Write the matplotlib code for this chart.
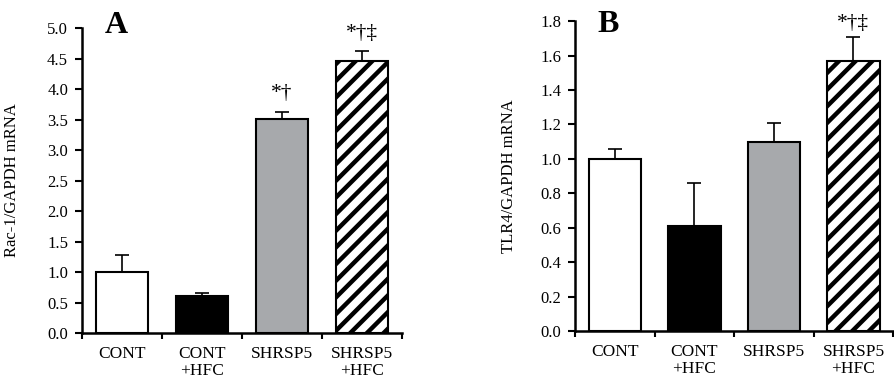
import numpy as np
import matplotlib.pyplot as plt

plt.rcParams['font.family'] = ['Liberation Serif', 'DejaVu Serif']
plt.rcParams['hatch.linewidth'] = 3.2

groups = ['CONT', 'CONT\n+HFC', 'SHRSP5', 'SHRSP5\n+HFC']
colors = ['white', 'black', '#a7a9ac', 'white']
hatches = ['', '', '', '//']

rac1_mean = [1.00, 0.61, 3.51, 4.46]
rac1_err = [0.28, 0.05, 0.12, 0.16]
rac1_marks = ['', '', '*†', '*†‡']

tlr4_mean = [1.00, 0.61, 1.10, 1.57]
tlr4_err = [0.06, 0.25, 0.11, 0.14]
tlr4_marks = ['', '', '', '*†‡']


def panel(ax, means, errs, marks, ylim, step, ylabel, letter, letter_pos, mark_gap):
    x = np.arange(len(groups))
    bars = ax.bar(x, means, width=0.66, color=colors, edgecolor='black',
                  linewidth=1.5, zorder=2)
    for b, h in zip(bars, hatches):
        b.set_hatch(h)
    ax.errorbar(x, means, yerr=[np.zeros(len(errs)), errs], fmt='none',
                ecolor='black', elinewidth=1.2, capsize=4.7, capthick=1.2, zorder=3)
    for xi, m, e, t in zip(x, means, errs, marks):
        if t:
            ax.annotate(t, (xi, m + e), xytext=(0, mark_gap), textcoords='offset points',
                        ha='center', va='bottom', fontsize=15.5, annotation_clip=False)
    ticks = np.arange(ylim[0], ylim[1] + step / 2, step)
    ax.set_xlim(-0.5, len(groups) - 0.5)
    ax.set_ylim(*ylim)
    ax.set_yticks(ticks)
    ax.set_yticklabels([f'{v:.1f}' for v in ticks])
    ax.set_xticks(np.arange(len(groups) + 1) - 0.5)
    ax.set_xticklabels([])
    ax.set_xticks(x, minor=True)
    ax.set_xticklabels(groups, minor=True, fontsize=12.5, linespacing=1.1)
    ax.tick_params(axis='x', which='minor', length=0, pad=9)
    ax.tick_params(axis='x', which='major', direction='out', length=4, width=1.5)
    ax.tick_params(axis='y', direction='out', length=5, width=1.5, labelsize=12, pad=5)
    for s in ['top', 'right']:
        ax.spines[s].set_visible(False)
    for s in ['left', 'bottom']:
        ax.spines[s].set_linewidth(1.8)
    ax.set_ylabel(ylabel, fontsize=12)
    ax.text(letter_pos[0], letter_pos[1], letter, transform=ax.transAxes, fontsize=23,
            fontweight='bold', ha='left', va='baseline')


fig = plt.figure(figsize=(8.95, 3.85), dpi=100)
ax1 = fig.add_axes([0.0916, 0.135, 0.3575, 0.792])
ax2 = fig.add_axes([0.6425, 0.140, 0.3555, 0.805])

panel(ax1, rac1_mean, rac1_err, rac1_marks, (0, 5.0), 0.5,
      'Rac-1/GAPDH mRNA', 'A', (0.07, 0.984), 6)
panel(ax2, tlr4_mean, tlr4_err, tlr4_marks, (0, 1.8), 0.2,
      'TLR4/GAPDH mRNA', 'B', (0.069, 0.965), 3)
ax1.yaxis.set_label_coords(-0.194, 0.5)
ax2.yaxis.set_label_coords(-0.182, 0.5)

fig.savefig('out.png', dpi=100)
